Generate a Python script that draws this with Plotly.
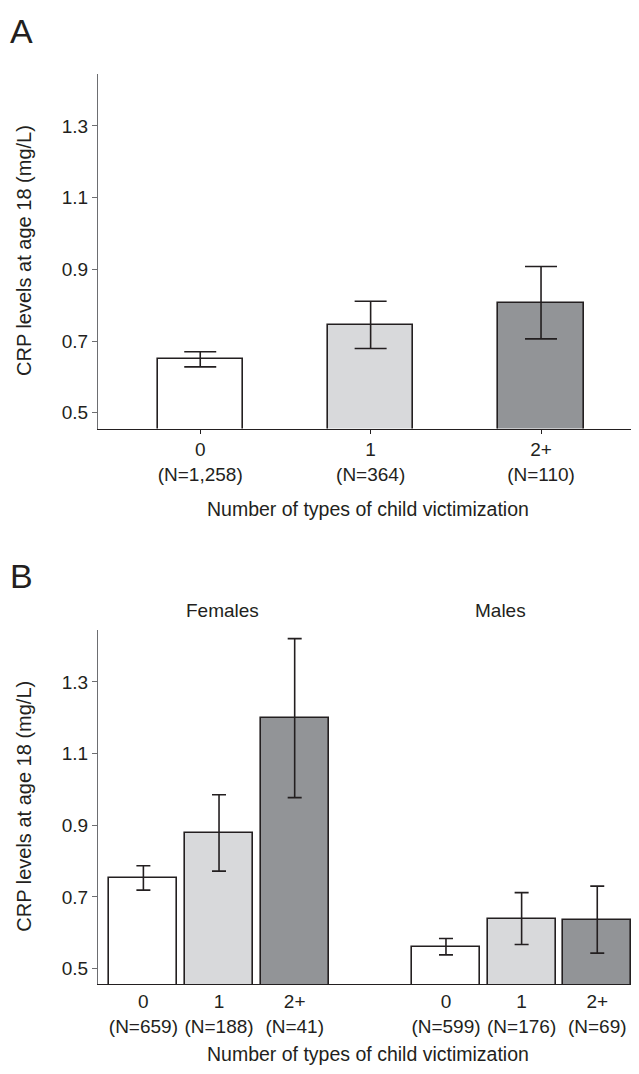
import plotly.graph_objects as go

# ---- Data ----
# Panel A
cats_a = ["0<br>(N=1,258)", "1<br>(N=364)", "2+<br>(N=110)"]
mean_a = [0.650, 0.745, 0.807]
upper_a = [0.670, 0.811, 0.908]
lower_a = [0.628, 0.679, 0.706]

# Panel B
cats_f = ["0<br>(N=659)", "1<br>(N=188)", "2+<br>(N=41)"]
mean_f = [0.752, 0.878, 1.200]
upper_f = [0.787, 0.985, 1.421]
lower_f = [0.719, 0.772, 0.977]

cats_m = ["0<br>(N=599)", "1<br>(N=176)", "2+<br>(N=69)"]
mean_m = [0.560, 0.639, 0.635]
upper_m = [0.584, 0.712, 0.730]
lower_m = [0.538, 0.567, 0.543]

y_ticks = [0.5, 0.7, 0.9, 1.1, 1.3]
y_title = "CRP levels at age 18 (mg/L)"
x_title = "Number of types of child victimization"

colors = ["#ffffff", "#d8d9db", "#929497"]
edge = "#231f20"
FONT = "Liberation Sans, Arial, sans-serif"

# page has an 8px body margin: figure coordinates = page coordinates - 8
OFF = 8
W, H = 639 - 2 * OFF, 1074 - 2 * OFF
L = 98 - OFF

fig = go.Figure()

# Panel A
fig.add_trace(go.Bar(
    x=cats_a, y=mean_a, xaxis="x", yaxis="y", width=0.5,
    marker=dict(color=colors, line=dict(color=edge, width=1.6)),
    error_y=dict(type="data", symmetric=False,
                 array=[u - m for u, m in zip(upper_a, mean_a)],
                 arrayminus=[m - l for m, l in zip(mean_a, lower_a)],
                 color=edge, thickness=1.6, width=16),
    showlegend=False, hoverinfo="skip"))

# Panel B
xb = cats_f + [" "] + cats_m
yb = mean_f + [None] + mean_m
ub = [u - m for u, m in zip(upper_f, mean_f)] + [None] + [u - m for u, m in zip(upper_m, mean_m)]
lb = [m - l for m, l in zip(mean_f, lower_f)] + [None] + [m - l for m, l in zip(mean_m, lower_m)]
cb = colors + ["#ffffff"] + colors
fig.add_trace(go.Bar(
    x=xb, y=yb, xaxis="x2", yaxis="y2", width=0.9,
    marker=dict(color=cb, line=dict(color=edge, width=1.6)),
    error_y=dict(type="data", symmetric=False, array=ub, arrayminus=lb,
                 color=edge, thickness=1.6, width=7),
    showlegend=False, hoverinfo="skip"))

tickfont = dict(family=FONT, size=19, color=edge)
common_y = dict(range=[0.456, 1.445], tickvals=y_ticks, ticktext=[f"{v:.1f}" for v in y_ticks],
                showline=True, linecolor="#6d6e71", linewidth=1.3, ticks="outside",
                ticklen=5, tickcolor="#6d6e71", tickwidth=1.2, showgrid=False, zeroline=False,
                tickfont=tickfont)


def ydom(top_page, bot_page):
    return [1 - (bot_page - OFF) / H, 1 - (top_page - OFF) / H]


fig.update_layout(
    width=W, height=H,
    margin=dict(l=L, r=0, t=0, b=0),
    plot_bgcolor="white", paper_bgcolor="white",
    font=dict(family=FONT, color=edge),
    bargap=0,
    xaxis=dict(domain=[0, 1], anchor="y", type="category", categoryorder="array",
               categoryarray=cats_a, range=[-0.6, 2.528], showline=True, linecolor=edge,
               linewidth=1.3, ticks="outside", ticklen=4, tickcolor=edge, tickwidth=1.2,
               showgrid=False, tickfont=tickfont),
    yaxis=dict(domain=ydom(74, 428.5), anchor="x", **common_y),
    xaxis2=dict(domain=[0, 1], anchor="y2", type="category", categoryorder="array",
                categoryarray=xb, range=[-0.6, 6.446], showline=True, linecolor=edge,
                linewidth=1.3, ticks="", showgrid=False, tickfont=tickfont),
    yaxis2=dict(domain=ydom(630, 984.3), anchor="x2", **common_y),
)

annotations = [
    dict(text="A", x=8, y=10, size=34, center=False),
    dict(text="B", x=8, y=555, size=34, center=False),
    dict(text="Females", x=222, y=610, size=19, center=True),
    dict(text="Males", x=500, y=610, size=19, center=True),
    dict(text=x_title, x=368, y=509, size=19.5, center=True),
    dict(text=x_title, x=368, y=1054, size=19.5, center=True),
]
for a in annotations:
    px, py = a["x"] - OFF, a["y"] - OFF
    fig.add_annotation(
        text=a["text"], font=dict(size=a["size"], family=FONT, color=edge), showarrow=False,
        xref="paper", yref="paper",
        x=(px - L) / (W - L), y=1 - py / H,
        xanchor="center" if a["center"] else "left",
        yanchor="middle" if a["center"] else "top",
    )

# y-axis titles
for yc in (251, 806.7):
    fig.add_annotation(
        text=y_title, font=dict(size=20, family=FONT, color=edge), showarrow=False,
        textangle=-90, xref="paper", yref="paper",
        x=(24 - OFF - L) / (W - L), y=1 - (yc - OFF) / H,
        xanchor="center", yanchor="middle")

fig.write_html("out.html")
